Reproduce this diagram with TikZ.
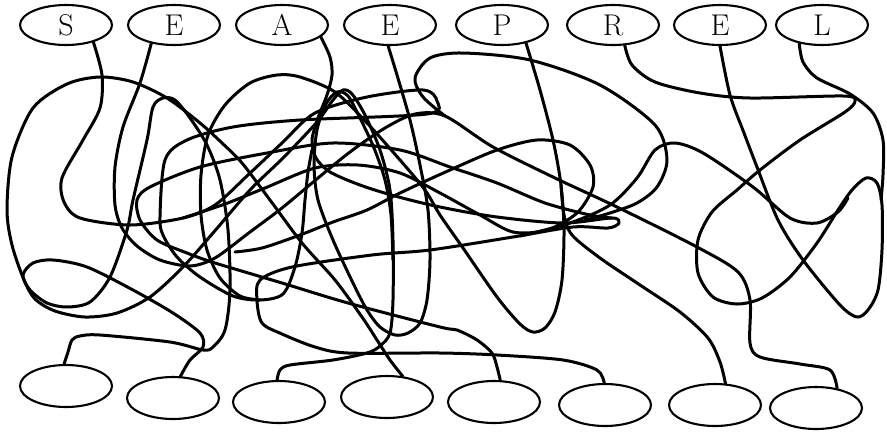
\documentclass[tikz,border=0pt]{standalone}
\usetikzlibrary{shapes.geometric}
\tikzset{
  ell/.style={draw, line width=2.1pt, ellipse, minimum width=92pt, minimum height=40pt, inner sep=0pt, font=\fontsize{30}{30}\selectfont},
  bell/.style={ell, minimum height=42pt},
  wire/.style={line width=3pt, line cap=round, line join=round},
}
\begin{document}
\begin{tikzpicture}[x=1pt,y=-1pt]
\useasboundingbox (0,0) rectangle (887,432);
% top nodes
\node[ell] (t1) at (66,25) {S};
\node[ell] (t2) at (174,25) {E};
\node[ell] (t3) at (282,25) {A};
\node[ell] (t4) at (390,25) {E};
\node[ell] (t5) at (502,25) {P};
\node[ell] (t6) at (613,25) {R};
\node[ell] (t7) at (720,25) {E};
\node[ell] (t8) at (822,25) {L};
% bottom nodes
\node[bell] (b1) at (66,386) {};
\node[bell] (b2) at (173,398) {};
\node[bell] (b3) at (279,402) {};
\node[bell] (b4) at (387,397) {};
\node[bell] (b5) at (494,402) {};
\node[bell] (b6) at (605,405) {};
\node[bell] (b7) at (715,405) {};
\node[bell] (b8) at (816,408) {};
% S
\draw[wire] plot[smooth] coordinates {(t1.-32) (102,75) (100,108) (83,140) (62,178) (64,202) (80,218) (130,225) (183,218) (215,205) (248,175) (282,143) (315,113) (367,97) (423,90) (437,101) (427,114) (300,120) (233,127) (187,140) (165,160) (160,217) (163,235) (177,257) (200,277) (233,296) (260,300) (283,294) (295,267) (302,233) (305,200) (308,172) (312,150)};
% big left arc
\draw[wire] plot[smooth] coordinates {(b4.53) (390,360) (377,340) (362,317) (335,280) (302,243) (270,200) (242,163) (222,143) (200,123) (167,98) (133,82) (100,77) (67,84) (33,108) (12,157) (7,210) (12,245) (24,280) (35,299) (55,311) (85,317) (117,313) (150,297) (183,267) (213,233) (250,190) (283,158) (317,122) (333,100) (343,90) (352,94) (365,115) (380,150) (390,190) (393,240) (393,300) (390,333) (380,346) (367,353) (333,360) (290,365) (280,370) (b3.95)};
% E1
\draw[wire] plot[smooth] coordinates {(t2.-141) (140,83) (123,127) (115,167) (115,205) (122,228) (137,246) (160,260) (190,266) (215,258) (250,232) (282,208) (318,178) (350,152) (385,128) (415,114) (445,116) (493,147) (555,178) (617,207) (697,247) (738,272) (750,300) (750,343) (760,357) (800,364) (830,370) (b8.43)};
% A
\draw[wire] plot[smooth] coordinates {(t3.-17) (330,57) (332,75) (327,95) (318,118) (312,140) (316,158) (330,172) (360,185) (395,196) (440,207) (497,217) (563,223) (612,218) (619,223) (608,228) (573,227) (513,237) (430,250) (372,255) (292,267) (260,280) (257,300) (262,323) (282,334) (315,347) (348,353) (440,353) (497,355) (563,360) (597,370) (b6.92)};
% E2
\draw[wire] plot[smooth] coordinates {(t4.-95) (397,75) (410,120) (420,165) (428,210) (430,260) (427,300) (420,323) (408,333) (395,335) (380,327) (367,310) (353,283) (333,240) (318,200) (314,165) (317,130) (326,104) (337,92) (348,96) (360,118) (374,148) (385,180) (391,215) (393,260)};
% b2 - b1
\draw[wire] plot[smooth] coordinates {(b2.71) (190,360) (203,347) (200,333) (173,313) (133,290) (87,267) (53,260) (33,263) (23,275) (30,290) (47,303) (67,307) (90,302) (110,277) (127,230) (133,200) (147,140) (153,107) (163,98) (175,100) (190,118) (207,145) (220,180) (228,230) (230,290) (225,330) (213,347) (203,350) (170,342) (100,335) (80,336) (72,340) (68,352) (b1.95)};
% b5 lens
\draw[wire] plot[smooth] coordinates {(b5.74) (497,367) (492,353) (477,340) (457,330) (440,327) (348,303) (282,283) (215,263) (187,253) (157,240) (140,220) (137,200) (150,187) (200,167) (267,153) (333,143) (400,150) (450,167) (497,183) (545,203) (590,215) (612,218)};
% P (with V loop and big arch over A)
\draw[wire] plot[smooth] coordinates {(t5.-37) (540,90) (553,140) (561,185) (564,230) (562,280) (555,312) (545,328) (533,332) (520,324) (497,297) (463,248) (440,215) (425,190) (400,160) (367,123) (335,92) (300,77) (277,75) (250,83) (225,105) (208,135) (201,175) (201,215) (207,250) (220,278) (240,296) (260,300)};
% branch to b7
\draw[wire] plot[smooth] coordinates {(561,185) (564,215) (572,235) (600,258) (640,285) (680,312) (708,338) (720,362) (b7.64)};
% middle loops
\draw[wire] plot[smooth] coordinates {(183,218) (225,204) (265,188) (315,168) (358,165) (400,173) (440,193) (480,215) (513,232) (547,230) (577,213) (593,187) (590,165) (570,145) (537,140) (497,150) (450,170) (400,193) (367,210) (333,222) (300,235) (262,248) (235,252)};
% lens line right
\draw[wire] plot[smooth] coordinates {(520,236) (570,223) (610,205) (637,178) (655,150) (675,143) (703,153) (753,187) (790,218) (817,223) (838,212) (848,198)};
% upper arc
\draw[wire] plot[smooth] coordinates {(445,116) (423,97) (415,78) (430,58) (463,53) (530,60) (600,85) (655,125) (667,160) (657,187) (637,203) (610,213) (585,220)};
% R - E3
\draw[wire] plot[smooth] coordinates {(t6.-60) (632,65) (655,82) (700,93) (750,98) (843,96) (855,101) (845,112) (800,140) (760,170) (737,190) (712,212) (698,240) (698,273) (713,297) (737,304) (762,298) (790,277) (817,243) (838,210) (852,190) (866,178) (877,183) (882,205) (882,250) (878,290) (868,310) (857,317) (840,305) (803,260) (778,220) (757,167) (744,133) (730,95) (t7.-90)};
% L
\draw[wire] plot[smooth] coordinates {(t8.-141) (803,62) (817,78) (850,94) (873,113) (883,140) (883,175) (881,200)};
\end{tikzpicture}
\end{document}
